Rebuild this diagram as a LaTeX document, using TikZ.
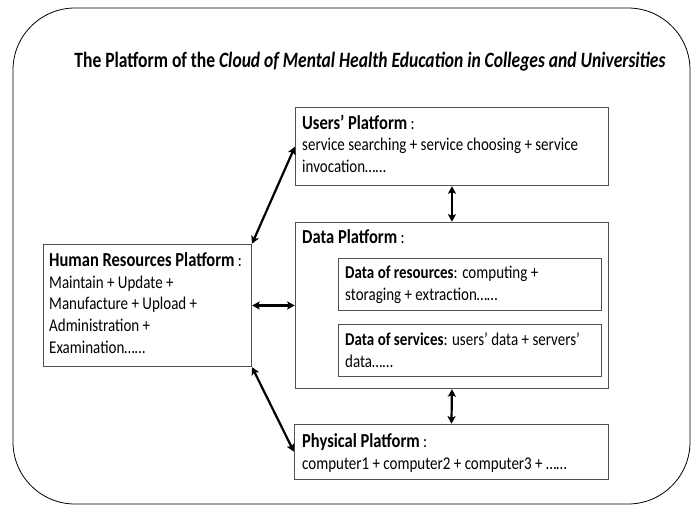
\documentclass[tikz,border=0pt]{standalone}
\usepackage{fontspec}
\setmainfont{Carlito}
\usetikzlibrary{arrows.meta}
\definecolor{boxgray}{HTML}{505050}
\tikzset{
  box/.style={draw=boxgray, line width=0.9pt, inner sep=0pt, anchor=north west, rectangle},
  txt/.style={anchor=base west, inner sep=0pt, font=\fontsize{15}{18.33}\selectfont},
  dbl/.style={line width=2.2pt, {Stealth[length=7.5pt,width=8pt,inset=1.5pt]}-{Stealth[length=7.5pt,width=8pt,inset=1.5pt]}, shorten <=0.3pt, shorten >=0.3pt}
}
\newcommand{\btxt}[2]{\scalebox{1}[1.2]{\parbox[t]{#1}{\raggedright #2}}}
\newcommand{\hd}[1]{{\fontsize{16.5}{18.33}\selectfont\bfseries #1}}
\begin{document}
\begin{tikzpicture}[x=1pt,y=-1pt]
\useasboundingbox (0,0) rectangle (696,506);
% outer frame
\draw[line width=0.8pt, rounded corners=62pt] (13,8) rectangle (690,504);
% title
\node[anchor=base, inner sep=0pt, font=\fontsize{17.5}{22}\selectfont\bfseries] (title) at (370,67)
  {\scalebox{1}[1.25]{The Platform of the \textit{Cloud of Mental Health Education in Colleges and Universities}}};
% boxes
\node[box, minimum width=313pt, minimum height=78pt] (users) at (295,107) {};
\node[box, minimum width=313pt, minimum height=166pt] (data) at (295,222) {};
\node[box, minimum width=263pt, minimum height=52pt] (res) at (338,258) {};
\node[box, minimum width=263pt, minimum height=52pt] (serv) at (338,324) {};
\node[box, minimum width=314pt, minimum height=55pt] (phys) at (294,424) {};
\node[box, minimum width=208pt, minimum height=122pt] (hr) at (43,244) {};
% texts
\node[txt] (userst) at (302,129) {\btxt{300pt}{\hd{Users’ Platform} :\\service searching + service choosing + service\\invocation……}};
\node[txt] (datat) at (302,243) {\btxt{200pt}{\hd{Data Platform} :}};
\node[txt] (rest) at (345,278) {\btxt{255pt}{\textbf{Data of resources}: computing +\\storaging + extraction……}};
\node[txt] (servt) at (345,345) {\btxt{255pt}{\textbf{Data of services}: users’ data + servers’\\data……}};
\node[txt] (physt) at (302,447) {\btxt{300pt}{\hd{Physical Platform} :\\computer1 + computer2 + computer3 + ……}};
\node[txt] (hrt) at (49,266) {\btxt{200pt}{\hd{Human Resources Platform} :\\Maintain + Update +\\Manufacture + Upload +\\Administration +\\Examination……}};
% connectors
\draw[dbl] (hr.north east) -- (users.west);
\draw[dbl] (hr.east) -- (data.west);
\draw[dbl] (hr.south east) -- (phys.west);
\draw[dbl] (users.south) -- (data.north);
\draw[dbl] (data.south) -- (phys.north);
\end{tikzpicture}
\end{document}
